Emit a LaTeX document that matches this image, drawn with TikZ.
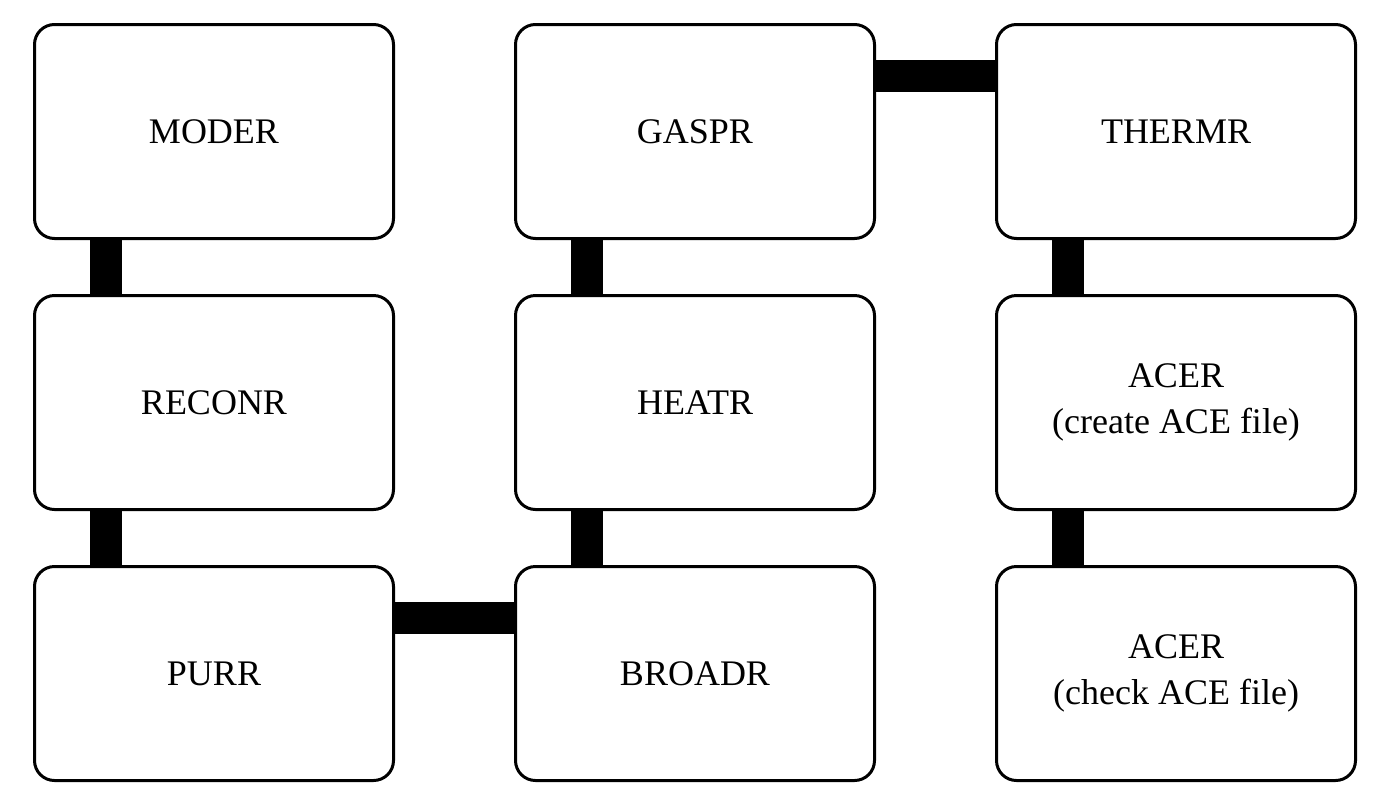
\documentclass[tikz,border=0pt]{standalone}
\usepackage{fontspec}
\setmainfont{Liberation Serif}
\begin{document}
\begin{tikzpicture}[x=1pt,y=-1pt,
  box/.style={draw,line width=3pt,rounded corners=20pt,minimum width=359pt,minimum height=214pt,align=center,font=\fontsize{36}{46}\selectfont,inner sep=0pt},
  bar/.style={line width=32pt}]
\useasboundingbox (0,0) rectangle (1373,785);
\node[box] (moder) at (214,131.5) {MODER};
\node[box] (reconr) at (214,402.5) {RECONR};
\node[box] (purr) at (214,673.5) {PURR};
\node[box] (gaspr) at (695,131.5) {GASPR};
\node[box] (heatr) at (695,402.5) {HEATR};
\node[box] (broadr) at (695,673.5) {BROADR};
\node[box] (thermr) at (1176,131.5) {THERMR};
\node[box] (acer1) at (1176,402.5) {ACER\\(create ACE file)};
\node[box] (acer2) at (1176,673.5) {ACER\\(check ACE file)};
\draw[bar] ([xshift=72.5pt]moder.south west) -- ([xshift=72.5pt]reconr.north west);
\draw[bar] ([xshift=72.5pt]reconr.south west) -- ([xshift=72.5pt]purr.north west);
\draw[bar] ([xshift=72.5pt]broadr.north west) -- ([xshift=72.5pt]heatr.south west);
\draw[bar] ([xshift=72.5pt]heatr.north west) -- ([xshift=72.5pt]gaspr.south west);
\draw[bar] ([xshift=72.5pt]thermr.south west) -- ([xshift=72.5pt]acer1.north west);
\draw[bar] ([xshift=72.5pt]acer1.south west) -- ([xshift=72.5pt]acer2.north west);
\draw[bar] ([yshift=-52.5pt]purr.north east) -- ([yshift=-52.5pt]broadr.north west);
\draw[bar] ([yshift=-52.5pt]gaspr.north east) -- ([yshift=-52.5pt]thermr.north west);
\end{tikzpicture}
\end{document}
